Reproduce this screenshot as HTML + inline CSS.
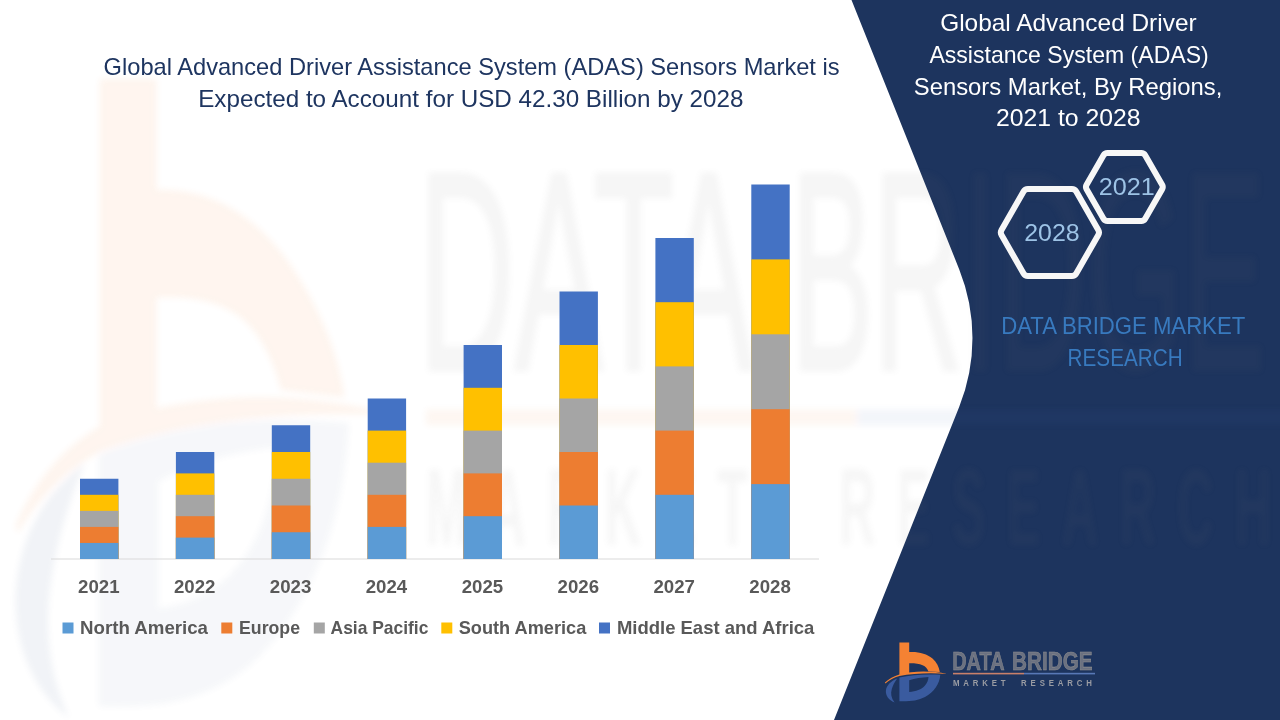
<!DOCTYPE html>
<html lang="en">
<head>
<meta charset="utf-8">
<title>Global Advanced Driver Assistance System (ADAS) Sensors Market</title>
<style>
html,body{margin:0;padding:0;background:#fff;}
body{width:1280px;height:720px;overflow:hidden;font-family:"Liberation Sans",sans-serif;}
svg{display:block;}
text{font-family:"Liberation Sans",sans-serif;}
</style>
</head>
<body>
<svg width="1280" height="720" viewBox="0 0 1280 720" role="img" aria-label="ADAS sensors market stacked bar chart by region, 2021 to 2028">
<defs>
<filter id="soft" x="-5%" y="-5%" width="110%" height="110%"><feGaussianBlur stdDeviation="3"/></filter>
</defs>
<rect width="1280" height="720" fill="#FFFFFF"/>
<path id="panel" d="M851.5,0 L959.25,269.4 A185,185 0 0 1 959.25,406.8 L834,720 L1280,720 L1280,0 Z" fill="#1D345E"/>
<g id="watermark" filter="url(#soft)" opacity="0.08">
<g transform="matrix(6.12,0,0,10.65,-5405.8,-6762.5)">
<g class="mark">
<path d="M899.6,642.4 L908.9,642.4 L908.9,652.8 C917.6,652.6 925.4,655.2 931.2,660.2 C935.6,664 938.6,668.2 939.6,672.3 L929.2,671.6 C928,668.8 925.8,666.3 922.6,664.8 C919,663.2 914.6,662.8 908.9,662.9 L908.9,673.6 L899.6,675 Z" fill="#F58233"/>
<path d="M885.8,684.4 C889.2,679.8 893.8,677 899.6,675 C913,671.9 931,671.3 948,674 C931,673.5 913,674.4 899.6,677.4 C894,679.2 889.8,681.6 886.2,685 Z" fill="#F58233"/>
<path fill-rule="evenodd" d="M899.4,677.6 C912,674.6 926,673.9 940.3,674.7 C939.6,684 934,692 925,697 C918,700.6 910,701.6 899.4,701.3 Z M909.2,680.2 L909.2,692.1 C916,691.6 921.4,689.6 925,685.6 C927.2,683 928.3,680.2 928.5,677 C921.6,677.4 915,678.4 909.2,680.2 Z" fill="#4A6496" fill-opacity="0.6"/>
<path d="M897.2,678.4 C890.6,681.2 886.6,685.2 885.9,690.4 C885.4,695.4 888.6,699.8 894.6,702.4 C891.2,698.2 890.4,693.6 891.8,689 C892.8,685.4 894.6,682 897.2,678.4 Z" fill="#4A6496" fill-opacity="0.95"/>
</g>
</g>
<g transform="matrix(6.12,0,0,10.65,-5408.8,-6765.5)">
<g class="wordmark" opacity="0.8"><text y="669.95" font-size="26.6" fill="#707070" stroke="#707070" stroke-width="0.4"><tspan x="952.2" textLength="54.6" lengthAdjust="spacingAndGlyphs">DATA</tspan> <tspan x="1013" textLength="77.6" lengthAdjust="spacingAndGlyphs">BRIDGE</tspan></text><rect x="953.4" y="673.7" width="70.4" height="1.5" fill="#E9803A"/><rect x="1023.8" y="673.7" width="71.2" height="1.5" fill="#4A6FB5"/><text transform="translate(953.4,686.4) scale(0.8,1)" font-size="10.2" font-weight="bold" fill="#7A7A7A" textLength="172.6" lengthAdjust="spacing" word-spacing="7">MARKET RESEARCH</text></g>
</g>
</g>
<g id="title" fill="#1E3560">
<text x="103.6" y="74.6" font-size="24" textLength="736" lengthAdjust="spacingAndGlyphs">Global Advanced Driver Assistance System (ADAS) Sensors Market is</text>
<text x="198.2" y="106.6" font-size="24" textLength="545.2" lengthAdjust="spacingAndGlyphs">Expected to Account for USD 42.30 Billion by 2028</text>
</g>
<g id="chart">
<rect x="51" y="558.5" width="768" height="1" fill="#D9D9D9"/>
<g class="bar"><rect x="80.0" y="478.75" width="38.4" height="80.25" fill="#4472C4"/><rect x="80.0" y="494.80" width="38.4" height="64.20" fill="#FFC000"/><rect x="80.0" y="510.85" width="38.4" height="48.15" fill="#A5A5A5"/><rect x="80.0" y="526.90" width="38.4" height="32.10" fill="#ED7D31"/><rect x="80.0" y="542.95" width="38.4" height="16.05" fill="#5B9BD5"/></g>
<g class="bar"><rect x="175.9" y="452.00" width="38.4" height="107.00" fill="#4472C4"/><rect x="175.9" y="473.40" width="38.4" height="85.60" fill="#FFC000"/><rect x="175.9" y="494.80" width="38.4" height="64.20" fill="#A5A5A5"/><rect x="175.9" y="516.20" width="38.4" height="42.80" fill="#ED7D31"/><rect x="175.9" y="537.60" width="38.4" height="21.40" fill="#5B9BD5"/></g>
<g class="bar"><rect x="271.8" y="425.25" width="38.4" height="133.75" fill="#4472C4"/><rect x="271.8" y="452.00" width="38.4" height="107.00" fill="#FFC000"/><rect x="271.8" y="478.75" width="38.4" height="80.25" fill="#A5A5A5"/><rect x="271.8" y="505.50" width="38.4" height="53.50" fill="#ED7D31"/><rect x="271.8" y="532.25" width="38.4" height="26.75" fill="#5B9BD5"/></g>
<g class="bar"><rect x="367.7" y="398.50" width="38.4" height="160.50" fill="#4472C4"/><rect x="367.7" y="430.60" width="38.4" height="128.40" fill="#FFC000"/><rect x="367.7" y="462.70" width="38.4" height="96.30" fill="#A5A5A5"/><rect x="367.7" y="494.80" width="38.4" height="64.20" fill="#ED7D31"/><rect x="367.7" y="526.90" width="38.4" height="32.10" fill="#5B9BD5"/></g>
<g class="bar"><rect x="463.6" y="345.00" width="38.4" height="214.00" fill="#4472C4"/><rect x="463.6" y="387.80" width="38.4" height="171.20" fill="#FFC000"/><rect x="463.6" y="430.60" width="38.4" height="128.40" fill="#A5A5A5"/><rect x="463.6" y="473.40" width="38.4" height="85.60" fill="#ED7D31"/><rect x="463.6" y="516.20" width="38.4" height="42.80" fill="#5B9BD5"/></g>
<g class="bar"><rect x="559.5" y="291.50" width="38.4" height="267.50" fill="#4472C4"/><rect x="559.5" y="345.00" width="38.4" height="214.00" fill="#FFC000"/><rect x="559.5" y="398.50" width="38.4" height="160.50" fill="#A5A5A5"/><rect x="559.5" y="452.00" width="38.4" height="107.00" fill="#ED7D31"/><rect x="559.5" y="505.50" width="38.4" height="53.50" fill="#5B9BD5"/></g>
<g class="bar"><rect x="655.4" y="238.00" width="38.4" height="321.00" fill="#4472C4"/><rect x="655.4" y="302.20" width="38.4" height="256.80" fill="#FFC000"/><rect x="655.4" y="366.40" width="38.4" height="192.60" fill="#A5A5A5"/><rect x="655.4" y="430.60" width="38.4" height="128.40" fill="#ED7D31"/><rect x="655.4" y="494.80" width="38.4" height="64.20" fill="#5B9BD5"/></g>
<g class="bar"><rect x="751.3" y="184.50" width="38.4" height="374.50" fill="#4472C4"/><rect x="751.3" y="259.40" width="38.4" height="299.60" fill="#FFC000"/><rect x="751.3" y="334.30" width="38.4" height="224.70" fill="#A5A5A5"/><rect x="751.3" y="409.20" width="38.4" height="149.80" fill="#ED7D31"/><rect x="751.3" y="484.10" width="38.4" height="74.90" fill="#5B9BD5"/></g>
<g class="axis" fill="#595959" font-weight="bold">
<text x="78.05" y="593.3" font-size="18" textLength="41.5" lengthAdjust="spacingAndGlyphs">2021</text>
<text x="173.95" y="593.3" font-size="18" textLength="41.5" lengthAdjust="spacingAndGlyphs">2022</text>
<text x="269.85" y="593.3" font-size="18" textLength="41.5" lengthAdjust="spacingAndGlyphs">2023</text>
<text x="365.75" y="593.3" font-size="18" textLength="41.5" lengthAdjust="spacingAndGlyphs">2024</text>
<text x="461.65" y="593.3" font-size="18" textLength="41.5" lengthAdjust="spacingAndGlyphs">2025</text>
<text x="557.55" y="593.3" font-size="18" textLength="41.5" lengthAdjust="spacingAndGlyphs">2026</text>
<text x="653.45" y="593.3" font-size="18" textLength="41.5" lengthAdjust="spacingAndGlyphs">2027</text>
<text x="749.35" y="593.3" font-size="18" textLength="41.5" lengthAdjust="spacingAndGlyphs">2028</text>
</g>
<g class="legend" fill="#595959" font-weight="bold">
<rect x="62.5" y="622.5" width="11" height="11" fill="#5B9BD5"/><text x="80" y="634" font-size="19" textLength="128" lengthAdjust="spacingAndGlyphs">North America</text>
<rect x="221.3" y="622.5" width="11" height="11" fill="#ED7D31"/><text x="239" y="634" font-size="19" textLength="61" lengthAdjust="spacingAndGlyphs">Europe</text>
<rect x="313.8" y="622.5" width="11" height="11" fill="#A5A5A5"/><text x="330.6" y="634" font-size="19" textLength="97.8" lengthAdjust="spacingAndGlyphs">Asia Pacific</text>
<rect x="441.3" y="622.5" width="11" height="11" fill="#FFC000"/><text x="458.75" y="634" font-size="19" textLength="127.5" lengthAdjust="spacingAndGlyphs">South America</text>
<rect x="599" y="622.5" width="11" height="11" fill="#4472C4"/><text x="616.9" y="634" font-size="19" textLength="197.5" lengthAdjust="spacingAndGlyphs">Middle East and Africa</text>
</g>
</g>
<g id="panel-title" fill="#FFFFFF">
<text x="940.2" y="30.7" font-size="24" textLength="256.4" lengthAdjust="spacingAndGlyphs">Global Advanced Driver</text>
<text x="929.4" y="62.6" font-size="24" textLength="279.4" lengthAdjust="spacingAndGlyphs">Assistance System (ADAS)</text>
<text x="913.8" y="94.6" font-size="24" textLength="308.6" lengthAdjust="spacingAndGlyphs">Sensors Market, By Regions,</text>
<text x="996" y="125.8" font-size="24" textLength="144.6" lengthAdjust="spacingAndGlyphs">2021 to 2028</text>
</g>
<g id="hexes" fill="none" stroke="#F7F7F7" stroke-width="6" stroke-linejoin="round">
<path d="M1001.52,235.04 A5,5 0 0 1 1001.52,230.06 L1023.56,191.61 A5,5 0 0 1 1027.90,189.10 L1071.90,189.10 A5,5 0 0 1 1076.24,191.61 L1098.28,230.06 A5,5 0 0 1 1098.28,235.04 L1076.24,273.49 A5,5 0 0 1 1071.90,276.00 L1027.90,276.00 A5,5 0 0 1 1023.56,273.49 Z"/>
<path d="M1086.58,189.19 A4.5,4.5 0 0 1 1086.58,184.71 L1103.53,155.16 A4.5,4.5 0 0 1 1107.43,152.90 L1141.27,152.90 A4.5,4.5 0 0 1 1145.17,155.16 L1162.12,184.71 A4.5,4.5 0 0 1 1162.12,189.19 L1145.17,218.74 A4.5,4.5 0 0 1 1141.27,221.00 L1107.43,221.00 A4.5,4.5 0 0 1 1103.53,218.74 Z"/>
</g>
<g id="hex-labels" fill="#9DC3E6">
<text x="1024.2" y="240.9" font-size="24" textLength="55.4" lengthAdjust="spacingAndGlyphs">2028</text>
<text x="1098.8" y="195.1" font-size="24" textLength="56" lengthAdjust="spacingAndGlyphs">2021</text>
</g>
<g id="brand" fill="#387ABF">
<text x="1001.2" y="333.8" font-size="24" textLength="244" lengthAdjust="spacingAndGlyphs">DATA BRIDGE MARKET</text>
<text x="1067.6" y="366" font-size="24" textLength="115" lengthAdjust="spacingAndGlyphs">RESEARCH</text>
</g>
<g id="logo">
<g class="mark">
<path d="M899.4,642.4 L909.2,642.4 L909.2,652 C918.5,651.4 926.6,653.6 932.5,658.4 C936.8,662 939,666.6 939.8,672.1 L928.4,671.4 C927.4,668.6 925.6,666.5 922.6,665.2 C919,663.6 914.6,663.1 909.2,663.2 L909.2,673.6 L899.4,675 Z" fill="#F58233"/>
<path d="M884.9,682.6 C889,678.6 893.6,676.2 899.4,674.4 C913,670.9 931,670.6 947.1,674 C931,672.7 913,673.3 899.4,676.1 C893.8,677.6 889.6,680.2 885.4,683.4 Z" fill="#F58233"/>
<path fill-rule="evenodd" d="M899.4,677.6 C912,674.6 926,673.9 940.3,674.7 C939.6,684 934,692 925,697 C918,700.6 910,701.6 899.4,701.3 Z M909.2,680.2 L909.2,692.1 C916,691.6 921.4,689.6 925,685.6 C927.2,683 928.3,680.2 928.5,677 C921.6,677.4 915,678.4 909.2,680.2 Z" fill="#3A5B9F" fill-opacity="1"/>
<path d="M897.2,678.4 C890.6,681.2 886.6,685.2 885.9,690.4 C885.4,695.4 888.6,699.8 894.6,702.4 C891.2,698.2 890.4,693.6 891.8,689 C892.8,685.4 894.6,682 897.2,678.4 Z" fill="#3A5B9F" fill-opacity="1"/>
</g>
<g class="wordmark"><text y="670" font-size="26.4" font-weight="bold" fill="#6B7181" stroke="#8F8F8F" stroke-width="0.55"><tspan x="952.2" textLength="51.6" lengthAdjust="spacingAndGlyphs">DATA</tspan> <tspan x="1012" textLength="80.6" lengthAdjust="spacingAndGlyphs">BRIDGE</tspan></text><rect x="953" y="672.8" width="71" height="1.6" fill="#C9806A"/><rect x="1024" y="672.8" width="71" height="1.6" fill="#5878B6"/><text transform="translate(953,686.1) scale(0.8,1)" font-size="9.8" font-weight="bold" fill="#9A9CA3" textLength="173.6" lengthAdjust="spacing" word-spacing="7">MARKET RESEARCH</text></g>
</g>
</svg>
</body>
</html>
